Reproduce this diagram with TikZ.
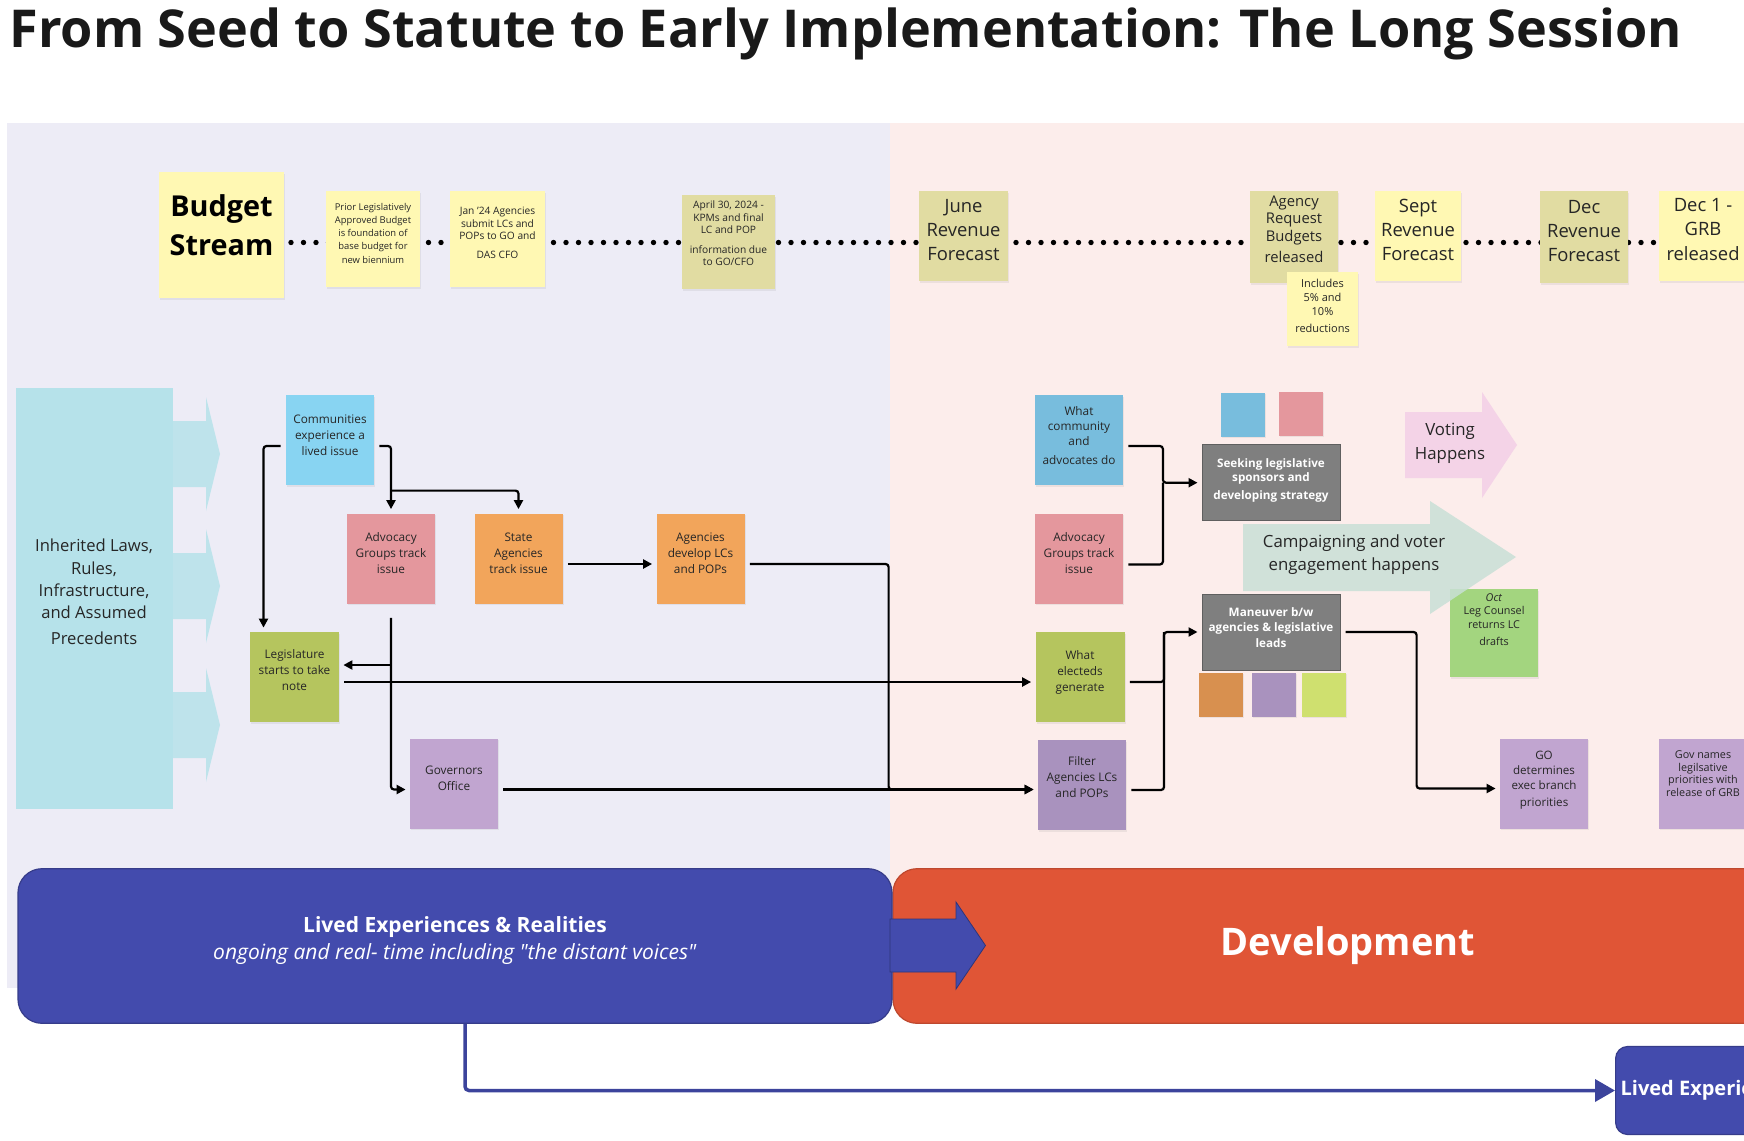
\documentclass[tikz,border=0pt]{standalone}
\usepackage{fontspec}
\setmainfont{Open Sans}
\usepackage{tikz}
\usetikzlibrary{arrows.meta,positioning,calc,shadows}
\definecolor{lavenderbg}{HTML}{EDECF6}
\definecolor{blushbg}{HTML}{FCEDEB}
\definecolor{noteyellow}{HTML}{FFF8B3}
\definecolor{notekhaki}{HTML}{E1DCA2}
\definecolor{lawcyan}{HTML}{B6E2EA}
\definecolor{skyblue}{HTML}{88D4F2}
\definecolor{steelnote}{HTML}{78BDDD}
\definecolor{rosenote}{HTML}{E4979D}
\definecolor{tangerine}{HTML}{F2A55B}
\definecolor{olivenote}{HTML}{B5C55E}
\definecolor{lilacnote}{HTML}{C1A5D0}
\definecolor{mauvenote}{HTML}{A992BE}
\definecolor{slatebox}{HTML}{7F7F7F}
\definecolor{claynote}{HTML}{D8904F}
\definecolor{limenote}{HTML}{CFE06F}
\definecolor{candy}{HTML}{F4D3E7}
\definecolor{sagearrow}{HTML}{C9E0D7}
\definecolor{leafnote}{HTML}{A3D57F}
\definecolor{royalphase}{HTML}{434BAD}
\definecolor{vermilion}{HTML}{E05536}
\definecolor{inkgray}{HTML}{262626}
% sticky text sits a little above the middle of its note
\newcommand{\stickytext}[2][2.2pt]{\raisebox{#1}[\height][\depth]{\begin{tabular}{@{}c@{}}#2\end{tabular}}}
\tikzset{
  note/.style={rectangle, inner sep=1pt, text=inkgray,
    minimum width=44pt, minimum height=45pt,
    font=\fontsize{5.9}{8}\selectfont,
    drop shadow={shadow xshift=0.6pt, shadow yshift=-0.8pt, opacity=0.12}},
  chip/.style={rectangle, minimum size=22pt, inner sep=0pt,
    drop shadow={shadow xshift=0.5pt, shadow yshift=-0.6pt, opacity=0.12}},
  darknote/.style={rectangle, fill=slatebox, draw=slatebox!75!black, line width=0.5pt,
    minimum width=69pt, minimum height=38pt, inner sep=1pt, text=white,
    font=\fontsize{5.85}{7.2}\selectfont\bfseries},
  flow/.style={line width=1.1pt, rounded corners=1.5pt, shorten <=2.5pt, shorten >=2pt,
    -{Triangle[length=4.5pt,width=4.5pt]}},
  feeder/.style={line width=1.1pt, rounded corners=1.5pt, shorten <=2.5pt},
  timeline/.style={line width=2.7pt, line cap=round, dash pattern=on 0pt off 6.25pt, black},
  phase/.style={rectangle, rounded corners=12pt, minimum height=77.3pt, text=white, align=center},
}
\begin{document}
\begin{tikzpicture}[x=0.5pt,y=-0.5pt]
    \useasboundingbox (0,0) rectangle (1744,1140);
    \clip (0,0) rectangle (1744,1140);
    \fill[white] (0,0) rectangle (1744,1140);

    % two background panels
    \fill[lavenderbg] (7,123) rectangle (890,988);
    \fill[blushbg] (890,123) rectangle (1744,988);

    \node[anchor=base west, inner sep=0pt, font=\fontsize{26.1}{31}\selectfont\bfseries, text=black!90] (title) at (9,47)
        {From Seed to Statute to Early Implementation: The Long Session};

    % budget stream timeline
    \coordinate (dotstart) at (291,242.5);
    \coordinate (dotend) at (1744,242.5);
    \draw[timeline] (dotstart) -- (dotend);

    \node[note, fill=noteyellow, minimum width=62.5pt, minimum height=63pt, text=black,
        font=\fontsize{14.4}{19.5}\selectfont\bfseries] (budget) at (221.5,235) {\stickytext[3.3pt]{Budget\\Stream}};
    \node[note, fill=noteyellow, minimum width=47pt, minimum height=48pt, font=\fontsize{4.7}{6.4}\selectfont] (prior) at (373,239)
        {\stickytext{Prior Legislatively\\Approved Budget\\is foundation of\\base budget for\\[0.8pt]new biennium}};
    \node[note, fill=noteyellow, minimum width=47.5pt, minimum height=48pt, font=\fontsize{5.1}{6.1}\selectfont] (jan) at (497.5,239)
        {\stickytext[2.5pt]{Jan '24 Agencies\\submit LCs and\\POPs to GO and\\[3.3pt]DAS CFO}};
    \node[note, fill=notekhaki, minimum width=46.5pt, minimum height=47pt, font=\fontsize{5.1}{6.1}\selectfont] (april) at (728.5,242)
        {\stickytext[3.6pt]{April 30, 2024 -\\KPMs and final\\LC and POP\\[3.9pt]information due\\to GO/CFO}};
    \node[note, fill=notekhaki, minimum width=44.5pt, font=\fontsize{9.2}{12.2}\selectfont] (june) at (963.5,236)
        {\stickytext{June\\Revenue\\Forecast}};
    \node[note, fill=notekhaki, minimum height=46pt, font=\fontsize{7.4}{8.6}\selectfont] (agency) at (1294,237)
        {\stickytext[3pt]{Agency\\Request\\Budgets\\[2pt]released}};
    \node[note, fill=noteyellow, minimum width=35.5pt, minimum height=37pt, font=\fontsize{5.5}{7.2}\selectfont] (includes) at (1322.5,309)
        {\stickytext[1.1pt]{Includes\\5\% and\\10\%\\[1pt]reductions}};
    \node[note, fill=noteyellow, minimum width=43pt, font=\fontsize{9.2}{12.2}\selectfont] (sept) at (1418,236)
        {\stickytext{Sept\\Revenue\\Forecast}};
    \node[note, fill=notekhaki, minimum height=46pt, font=\fontsize{9.2}{12.2}\selectfont] (dec) at (1584,237)
        {\stickytext{Dec\\Revenue\\Forecast}};
    \node[note, fill=noteyellow, font=\fontsize{9.2}{12.2}\selectfont] (dec1) at (1703,236)
        {\stickytext[2.5pt]{Dec 1 -\\GRB\\released}};

    % inherited base and its chevrons
    \node[rectangle, fill=lawcyan, minimum width=78.5pt, minimum height=210.5pt, text=inkgray,
        font=\fontsize{8.3}{11.1}\selectfont] (inherited) at (94,598)
        {\stickytext{Inherited Laws,\\Rules,\\Infrastructure,\\and Assumed\\[1.7pt]Precedents}};
    \foreach \cy in {454,586,725}
        \fill[lawcyan, opacity=0.85] (172,\cy-33) -- (206,\cy-33) -- (206,\cy-57) -- (220,\cy)
            -- (206,\cy+57) -- (206,\cy+33) -- (172,\cy+33) -- cycle;

    % seed side
    \node[note, fill=skyblue] (communities) at (330,440) {\stickytext[2pt]{Communities\\experience a\\lived issue}};
    \node[note, fill=rosenote] (advocacy) at (391,558.5) {\stickytext[2pt]{Advocacy\\Groups track\\issue}};
    \node[note, fill=tangerine] (stateag) at (518.5,558.5) {\stickytext{State\\Agencies\\track issue}};
    \node[note, fill=tangerine] (agencylc) at (700.5,558.5) {\stickytext{Agencies\\develop LCs\\and POPs}};
    \node[note, fill=olivenote, minimum width=44.5pt] (legislature) at (294.5,677) {\stickytext[2.8pt]{Legislature\\starts to take\\note}};
    \node[note, fill=lilacnote] (govoffice) at (454,783.5) {\stickytext{Governors\\Office}};

    % development side
    \node[note, fill=steelnote, font=\fontsize{5.9}{7.5}\selectfont] (whatcomm) at (1079,440)
        {\stickytext[1.7pt]{What\\community\\and\\[2pt]advocates do}};
    \node[note, fill=rosenote] (advocacy2) at (1079,558.5) {\stickytext[2pt]{Advocacy\\Groups track\\issue}};
    \node[note, fill=olivenote, minimum width=44.5pt] (electeds) at (1080,677) {\stickytext{What\\electeds\\generate}};
    \node[note, fill=mauvenote] (filter) at (1082,785) {\stickytext[3.3pt]{Filter\\Agencies LCs\\and POPs}};

    \node[chip, fill=steelnote] (chipblue) at (1243,415) {};
    \node[chip, fill=rosenote] (chippink) at (1300.5,414) {};
    \node[darknote] (seeking) at (1271,482.7) {\stickytext[1.1pt]{Seeking legislative\\sponsors and\\[1.7pt]developing strategy}};
    \node[darknote] (maneuver) at (1271,632) {\stickytext[1.4pt]{Maneuver b/w\\agencies \& legislative\\[1pt]leads}};
    \node[chip, fill=claynote] (chiporange) at (1220.5,695) {};
    \node[chip, fill=mauvenote] (chippurple) at (1274,695) {};
    \node[chip, fill=limenote] (chiplime) at (1324,695) {};

    \node[note, fill=leafnote, minimum height=44pt, font=\fontsize{5.4}{6.7}\selectfont] (octlc) at (1494,633)
        {\stickytext[6pt]{\textit{Oct}\\Leg Counsel\\returns LC\\[2.2pt]drafts}};
    \node[note, fill=lilacnote, font=\fontsize{5.8}{7.5}\selectfont] (godet) at (1544,783.5)
        {\stickytext[1.7pt]{GO\\determines\\exec branch\\[1.2pt]priorities}};
    \node[note, fill=lilacnote, font=\fontsize{5.4}{6.3}\selectfont] (govnames) at (1703,783.5)
        {\stickytext[4.2pt]{Gov names\\legilsative\\priorities with\\release of GRB}};

    % big block arrows
    \fill[candy] (1405,412) -- (1482,412) -- (1482,392) -- (1517,445) -- (1482,498) -- (1482,478) -- (1405,478) -- cycle;
    \node[align=center, text=inkgray, font=\fontsize{8.4}{11.7}\selectfont] (voting) at (1450,443.3) {Voting\\Happens};
    \fill[sagearrow, opacity=0.85] (1243,524) -- (1430,524) -- (1430,501) -- (1516,557) -- (1430,614) -- (1430,591) -- (1243,591) -- cycle;
    \node[align=center, text=inkgray, font=\fontsize{8.4}{11.7}\selectfont] (campaign) at (1354,554.7)
        {Campaigning and voter\\engagement happens};

    % connectors, seed side
    \coordinate (seam) at (888.6,789.5);
    \draw[flow] ([yshift=-3pt]communities.west) -| ([xshift=-15.5pt]legislature.north);
    \draw[flow] ([yshift=-3pt]communities.east) -| (advocacy.north);
    \draw[flow, shorten <=0pt] ($(advocacy.north)+(0,-22.5)$) -| (stateag.north);
    \draw[flow, shorten <=0pt] ([yshift=-7pt]advocacy.south) |- ([yshift=-3pt]govoffice.west);
    \draw[flow, shorten <=0pt] ($(advocacy.south |- legislature.east)+(0,-12)$) -- ($(legislature.east)+(0,-12)$);
    \draw[flow] ([yshift=-2.5pt]legislature.east) -- ([yshift=-2.5pt]electeds.west);
    \draw[flow] ([yshift=-2.75pt]stateag.east) -- ([yshift=-2.75pt]agencylc.west);
    \draw[flow] ([yshift=-2.75pt]agencylc.east) -| (seam) -- ([yshift=-2.25pt]filter.west);
    \draw[flow] ([yshift=-3pt]govoffice.east) -- ([yshift=-2.25pt]filter.west);

    % connectors, development side
    \draw[flow] ([yshift=-3pt]whatcomm.east) -| ($(seeking.west)+(-38.6,0)$) -- (seeking.west);
    \draw[feeder] ([yshift=-3pt]advocacy2.east) -| ($(seeking.west)+(-38.6,0)$);
    \draw[flow] ([yshift=-2.5pt]electeds.east) -| ($(maneuver.west)+(-37.5,0)$) -- (maneuver.west);
    \draw[feeder] ([yshift=-2.5pt]filter.east) -| ($(maneuver.west)+(-37.5,0)$);
    \draw[flow] (maneuver.east) -| ($(godet.west)+(-83,5)$) -- ($(godet.west)+(0,5)$);

    % phase bands
    \node[phase, fill=vermilion, draw=vermilion!85!black, line width=0.6pt, minimum width=455pt,
        font=\fontsize{19}{22}\selectfont\bfseries] (development) at (1348,946) {Development};
    \node[phase, fill=royalphase, draw=royalphase!80!black, line width=0.6pt, minimum width=437pt,
        font=\fontsize{10.5}{13.9}\selectfont] (lived) at (455,946)
        {\stickytext[2.8pt]{\textbf{Lived Experiences \& Realities}\\\textit{ongoing and real- time including {\addfontfeatures{Ligatures=TeXOff}"the distant voices"}}}};
    \fill[royalphase, draw=royalphase!70!black, line width=0.4pt] (890,919) -- (956,919) -- (956,902) -- (985.5,945.5)
        -- (956,989) -- (956,972) -- (890,972) -- cycle;

    \node[phase, fill=royalphase, draw=royalphase!80!black, line width=0.6pt, rounded corners=6pt, minimum height=44pt,
        anchor=west, inner xsep=2.5pt, font=\fontsize{10}{12}\selectfont\bfseries] (livedsmall) at (1615,1090.5)
        {Lived Experiences \& Realities};
    \draw[royalphase!90!black, line width=1.75pt, rounded corners=2pt, -{Triangle[length=10pt,width=11pt]}]
        ([xshift=5pt]lived.south) |- (livedsmall.west);
\end{tikzpicture}
\end{document}
